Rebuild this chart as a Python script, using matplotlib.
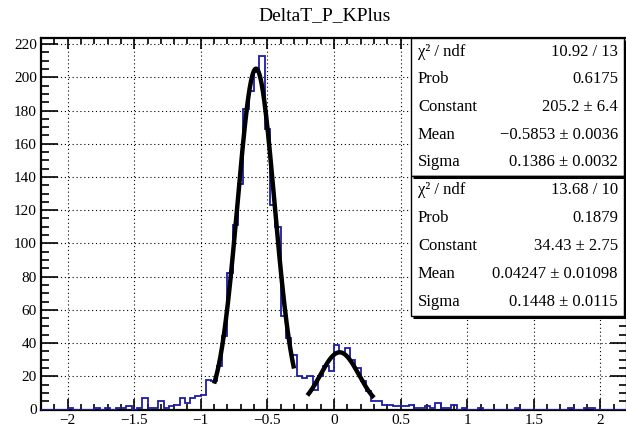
import numpy as np
import matplotlib
matplotlib.use("Agg")
import matplotlib.pyplot as plt
from matplotlib.ticker import MultipleLocator, FuncFormatter
from matplotlib.patches import Rectangle

# ---------------- data ----------------
title = "DeltaT_P_KPlus"
bin_lo, bin_hi, n_bins = -2.2, 2.2, 110

counts = [
    # -2.20 .. -1.80
    0, 0, 0, 0, 0, 1, 0, 0, 0, 0,
    # -1.80 .. -1.40
    1, 0, 1, 0, 1, 1, 2, 0, 1, 7,
    # -1.40 .. -1.00
    1, 1, 5, 1, 2, 3, 7, 4, 7, 8,
    # -1.00 .. -0.60
    9, 18, 17, 26, 44, 82, 111, 136, 181, 192,
    # -0.60 .. -0.20
    203, 213, 169, 123, 110, 56, 43, 33, 20, 19,
    # -0.20 .. 0.20
    20, 12, 20, 26, 23, 39, 34, 37, 30, 25,
    # 0.20 .. 0.60
    17, 11, 5, 5, 3, 3, 2, 2, 2, 3,
    # 0.60 .. 1.00
    1, 1, 2, 1, 4, 1, 1, 3, 0, 1,
    # 1.00 .. 1.40
    0, 0, 1, 0, 0, 0, 0, 0, 0, 1,
    # 1.40 .. 1.80
    0, 0, 0, 0, 0, 0, 0, 0, 0, 1,
    # 1.80 .. 2.20
    0, 0, 1, 1, 0, 0, 0, 0, 0, 0,
]

# gaussian fit results: constant, mean, sigma, fit range
fit1 = dict(const=205.2, mean=-0.5853, sigma=0.1386, lo=-0.90, hi=-0.30)
fit2 = dict(const=34.43, mean=0.04247, sigma=0.1448, lo=-0.20, hi=0.30)

stats1 = [("χ² / ndf", "10.92 / 13"),
          ("Prob", "0.6175"),
          ("Constant", "205.2 ± 6.4"),
          ("Mean", "−0.5853 ± 0.0036"),
          ("Sigma", "0.1386 ± 0.0032")]
stats2 = [("χ² / ndf", "13.68 / 10"),
          ("Prob", "0.1879"),
          ("Constant", "34.43 ± 2.75"),
          ("Mean", "0.04247 ± 0.01098"),
          ("Sigma", "0.1448 ± 0.0115")]

# ---------------- figure ----------------
W, H, DPI = 626, 426, 100
plt.rcParams["font.family"] = ["Liberation Serif", "DejaVu Serif"]

fig = plt.figure(figsize=(W / DPI, H / DPI), dpi=DPI)

# frame in pixel units
L, R, T, B = 41, 627, 38, 409.5
ax = fig.add_axes([L / W, 1 - B / H, (R - L) / W, (B - T) / H])

edges = np.linspace(bin_lo, bin_hi, n_bins + 1)
counts = np.asarray(counts, dtype=float)
ax.stairs(counts, edges, color="#1c1ca6", lw=1.3, zorder=3)


def gauss(x, p):
    return p["const"] * np.exp(-0.5 * ((x - p["mean"]) / p["sigma"]) ** 2)


for p in (fit1, fit2):
    xs = np.linspace(p["lo"], p["hi"], 300)
    ax.plot(xs, gauss(xs, p), color="black", lw=3.2, solid_capstyle="butt",
            zorder=4)

ax.set_xlim(bin_lo, bin_hi)
ax.set_ylim(0, counts.max() * 1.05)

ax.xaxis.set_major_locator(MultipleLocator(0.5))
ax.xaxis.set_minor_locator(MultipleLocator(0.1))
ax.yaxis.set_major_locator(MultipleLocator(20))
ax.yaxis.set_minor_locator(MultipleLocator(5))
ax.xaxis.set_major_formatter(FuncFormatter(lambda v, _: f"{v:g}".replace("-", "\u2212")))
ax.yaxis.set_major_formatter(FuncFormatter(lambda v, _: f"{v:g}"))

ax.tick_params(which="both", direction="in", top=True, right=True,
               width=1.2, labelsize=11, colors="black")
ax.tick_params(axis="x", which="major", length=8, pad=3)
ax.tick_params(axis="x", which="minor", length=4)
ax.tick_params(axis="y", which="major", length=12, pad=3)
ax.tick_params(axis="y", which="minor", length=6)

ax.grid(True, which="major", color="black", lw=0.8, linestyle=(0, (1, 2.5)))
ax.set_axisbelow(True)
for s in ax.spines.values():
    s.set_linewidth(1.6)

# ---------------- overlay: title and fit boxes ----------------
ov = fig.add_axes([0, 0, 1, 1], zorder=10)
ov.set_xlim(0, W)
ov.set_ylim(H, 0)
ov.axis("off")

ov.text(325, 16, title, ha="center", va="center", fontsize=14)


def stat_box(y0, y1, rows):
    x0, x1 = 411, 624
    ov.add_patch(Rectangle((x0, y0), x1 - x0, y1 - y0, facecolor="white",
                           edgecolor="black", lw=1.0))
    ov.plot([x0 + 2, x1 + 2], [y1 + 1, y1 + 1], color="black", lw=2.2,
            solid_capstyle="butt")
    ov.plot([x1 + 1, x1 + 1], [y0 + 2, y1 + 2], color="black", lw=2.2,
            solid_capstyle="butt")
    step = (y1 - y0) / len(rows)
    for i, (name, val) in enumerate(rows):
        yc = y0 + step * (i + 0.5)
        ov.text(418, yc, name, ha="left", va="center", fontsize=12)
        ov.text(618, yc, val, ha="right", va="center", fontsize=12)


stat_box(38, 176, stats1)
stat_box(176, 316, stats2)

fig.savefig("out.png", dpi=DPI)
